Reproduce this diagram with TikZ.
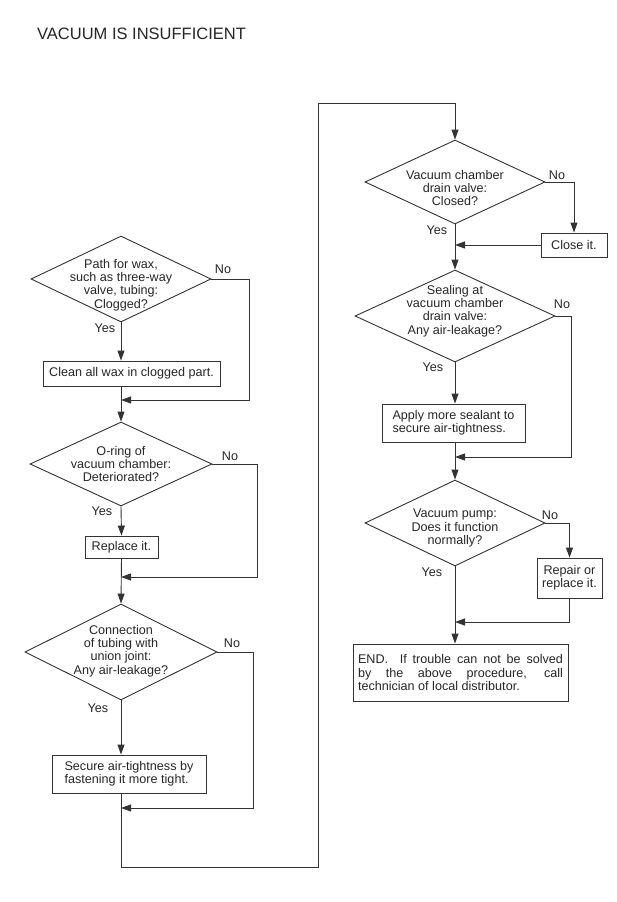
\documentclass[tikz,border=0pt]{standalone}
\usepackage{fontspec}
\setmainfont{Liberation Sans}
\usetikzlibrary{shapes.geometric,arrows.meta,calc}
\definecolor{ink}{HTML}{262626}
\definecolor{wire}{HTML}{333333}
\begin{document}
\begin{tikzpicture}[x=1pt,y=-1pt,
  txt/.style={font=\fontsize{12.6}{13.4}\selectfont, text=ink, inner sep=0pt},
  dia/.style={draw=wire, line width=0.9pt, shape=diamond, inner sep=0pt},
  dtext/.style={txt, align=center},
  box/.style={draw=wire, line width=0.9pt, txt, inner sep=0pt},
  lbl/.style={txt},
  wireline/.style={draw=wire, line width=0.9pt},
  arr/.style={wireline, -{Triangle[length=10pt,width=7pt]}}]
\useasboundingbox (0,0) rectangle (616,902);

\node[font=\fontsize{16.5}{18}\selectfont, text=ink, anchor=west, inner sep=0pt] (title) at (37,34) {VACUUM IS INSUFFICIENT};

% ---- left column ----
\node[dia, minimum width=180pt, minimum height=86pt] (d1) at (121,279) {};
\node[dtext] (t1) at (121,285) {Path for wax,\\such as three-way\\valve, tubing:\\Clogged?};
\node[box, minimum width=177pt, minimum height=25pt] (b1) at (131.5,373.5) {Clean all wax in clogged part.};
\coordinate (m1) at (121,400);
\coordinate (n1) at (249,400);

\node[dia, minimum width=182pt, minimum height=84pt] (d2) at (121,464) {};
\node[dtext] (t2) at (121,464) {O-ring of\\vacuum chamber:\\Deteriorated?};
\node[box, minimum width=73pt, minimum height=22pt] (b2) at (121.5,547) {Replace it.};
\coordinate (m2) at (121,577);
\coordinate (n2) at (257,577);

\node[dia, minimum width=192pt, minimum height=96pt] (d3) at (121,652) {};
\node[dtext] (t3) at (121,651) {Connection\\of tubing with\\union joint:\\Any air-leakage?};
\node[box, minimum width=154pt, minimum height=38pt, align=left] (b3) at (129,774) {Secure air-tightness by\\fastening it more tight.};
\coordinate (m3) at (121,808);
\coordinate (n3) at (253,808);

\coordinate (c1) at (121,867);
\coordinate (c2) at (318,867);
\coordinate (c3) at (318,103);
\coordinate (c4) at (455,103);

% ---- right column ----
\node[dia, minimum width=180pt, minimum height=84pt] (d5) at (455,182) {};
\node[dtext] (t5) at (455,188) {Vacuum chamber\\drain valve:\\Closed?};
\node[box, minimum width=66pt, minimum height=24pt] (b5) at (574,245) {Close it.};

\node[dia, minimum width=200pt, minimum height=92pt] (d6) at (455,316) {};
\node[dtext] (t6) at (455,311) {Sealing at\\vacuum chamber\\drain valve:\\Any air-leakage?};
\node[box, minimum width=143pt, minimum height=38pt, align=left] (b6) at (453.5,423) {Apply more sealant to\\secure air-tightness.};
\coordinate (m6) at (455,457);
\coordinate (n6) at (571,457);

\node[dia, minimum width=180pt, minimum height=86pt] (d7) at (455,523) {};
\node[dtext] (t7) at (455,528) {Vacuum pump:\\Does it function\\normally?};
\node[box, minimum width=65pt, minimum height=40pt, align=center] (b7) at (569.5,578) {Repair or\\replace it.};
\coordinate (m7) at (455,622);

\node[box, minimum width=215pt, minimum height=57pt, align=left] (b8) at (460.5,672.5)
  {\makebox[205pt][s]{END.\ \ If trouble can not be solved}\\
   \makebox[205pt][s]{by the above procedure, call}\\
   technician of local distributor.};

% ---- labels ----
\node[lbl] (no1) at (223,269) {No};
\node[lbl] (yes1) at (105,328) {Yes};
\node[lbl] (no2) at (230,456) {No};
\node[lbl] (yes2) at (102,511) {Yes};
\node[lbl] (no3) at (232,643) {No};
\node[lbl] (yes3) at (98,708) {Yes};
\node[lbl] (no5) at (557,175) {No};
\node[lbl] (yes5) at (437,230) {Yes};
\node[lbl] (no6) at (562,304) {No};
\node[lbl] (yes6) at (433,367) {Yes};
\node[lbl] (no7) at (550,515) {No};
\node[lbl] (yes7) at (432,572) {Yes};

% ---- connectors ----
\draw[arr] (d1.south) -- (d1.south |- b1.north);
\draw[arr] (d1.east) -| (n1) -- (m1);
\draw[arr] (m1 |- b1.south) -- (d2.north);
\draw[arr] (d2.south) -- (b2.north);
\draw[arr] (d2.east) -| (n2) -- (m2);
\draw[arr] (b2.south) -- (d3.north);
\draw[arr] (d3.south) -- (d3.south |- b3.north);
\draw[arr] (d3.east) -| (n3) -- (m3);
\draw[arr] (m3 |- b3.south) -- (c1) -- (c2) -- (c3) -- (c4) -- (d5.north);

\draw[arr] (d5.south) -- (d6.north);
\draw[arr] (d5.east) -| (b5.north);
\draw[arr] (b5.west) -- (b5.west -| d5.south);
\draw[arr] (d6.south) -- (d6.south |- b6.north);
\draw[arr] (d6.east) -| (n6) -- (m6);
\draw[arr] (m6 |- b6.south) -- (d7.north);
\draw[arr] (d7.east) -| (b7.north);
\draw[arr] (b7.south) |- (m7);
\draw[arr] (d7.south) -- (d7.south |- b8.north);
\end{tikzpicture}
\end{document}
